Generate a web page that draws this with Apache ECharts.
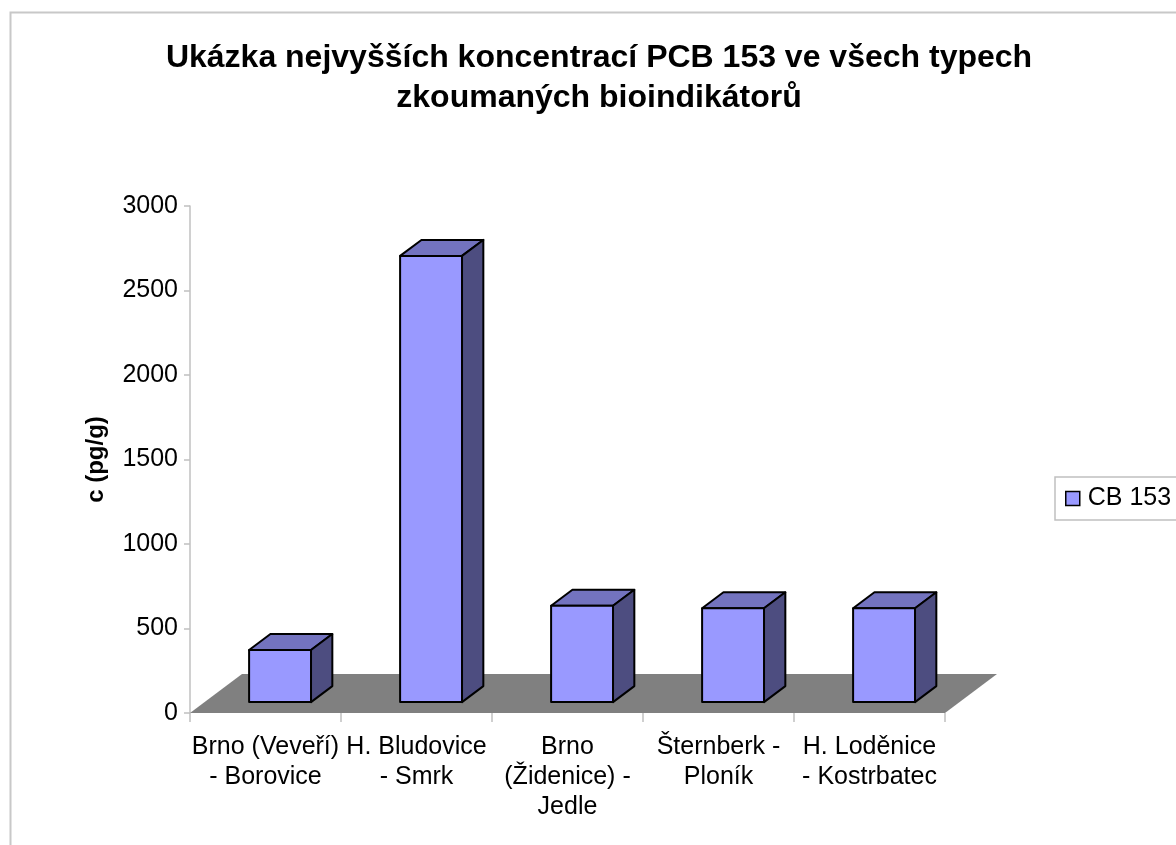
<!DOCTYPE html>
<html>
<head>
<meta charset="utf-8">
<script src="https://cdn.jsdelivr.net/npm/echarts@6/dist/echarts.min.js"></script>
<style>
    html, body { margin: 0; padding: 0; background: #fff; }
    #chart { width: 1176px; height: 845px; }
</style>
</head>
<body>
<div id="chart"></div>
<script>
var categories = [
    'Brno (Veveří)\n- Borovice',
    'H. Bludovice\n- Smrk',
    'Brno\n(Židenice) -\nJedle',
    'Šternberk -\nPloník',
    'H. Loděnice\n- Kostrbatec'
];
var values = [308, 2640, 570, 555, 555];
var yTicks = [0, 3000, 500]; // min, max, interval

// floor depth offset (pixels), bar sits between 28% and 69% of it
var DX = 52, DY = -39;
var FRONT = 0.28, BACK = 0.69;

function renderFloor(params, api) {
    var cs = params.coordSys;
    var x0 = cs.x, x1 = cs.x + cs.width, y = cs.y + cs.height;
    return {
        type: 'polygon',
        shape: { points: [[x0, y], [x1, y], [x1 + DX, y + DY], [x0 + DX, y + DY]] },
        style: { fill: '#808080', stroke: null }
    };
}

function renderBar(params, api) {
    var i = api.value(0), v = api.value(1);
    var base = api.coord([i, 0]);
    var top = api.coord([i, v]);
    var w = api.size([1, 0])[0] * 0.41;
    var fx = base[0] + DX * FRONT - w / 2;
    var fyb = base[1] + DY * FRONT;
    var fyt = top[1] + DY * FRONT;
    var dx = DX * (BACK - FRONT), dy = DY * (BACK - FRONT);
    var line = { stroke: '#000', lineWidth: 2, lineJoin: 'round' };
    return {
        type: 'group',
        children: [
            {
                type: 'polygon',
                shape: { points: [[fx, fyt], [fx + w, fyt], [fx + w + dx, fyt + dy], [fx + dx, fyt + dy]] },
                style: Object.assign({ fill: '#7373bf' }, line)
            },
            {
                type: 'polygon',
                shape: { points: [[fx + w, fyt], [fx + w + dx, fyt + dy], [fx + w + dx, fyb + dy], [fx + w, fyb]] },
                style: Object.assign({ fill: '#4d4d80' }, line)
            },
            {
                type: 'rect',
                shape: { x: fx, y: fyt, width: w, height: fyb - fyt },
                style: Object.assign({ fill: '#9999ff' }, line)
            }
        ]
    };
}

var myChart = echarts.init(document.getElementById('chart'));

var option = {
    animation: false,
    textStyle: { fontFamily: 'Liberation Sans, Arial, sans-serif' },
    title: {
        text: 'Ukázka nejvyšších koncentrací PCB 153 ve všech typech\nzkoumaných bioindikátorů',
        left: 599,
        top: 38,
        padding: 0,
        textAlign: 'center',
        textStyle: { fontSize: 32, fontWeight: 'bold', color: '#000', lineHeight: 40 }
    },
    graphic: [
        {
            type: 'rect',
            left: 8, top: 10,
            shape: { width: 1200, height: 900 },
            style: { fill: null, stroke: '#c8c8c8', lineWidth: 2 },
            z: -10
        }
    ],
    legend: {
        data: ['CB 153'],
        left: 1055,
        top: 477,
        orient: 'vertical',
        padding: [9, 14, 9, 10],
        borderColor: '#c0c0c0',
        borderWidth: 1.5,
        itemWidth: 14,
        itemHeight: 14,
        itemGap: 8,
        icon: 'rect',
        itemStyle: { color: '#9999ff', borderColor: '#000', borderWidth: 1.5 },
        textStyle: { fontSize: 25, color: '#000', padding: [0, 0, 0, 3] }
    },
    grid: { left: 190, right: 231, top: 206, bottom: 132 },
    xAxis: {
        type: 'category',
        data: categories,
        boundaryGap: true,
        axisLine: { show: false },
        axisTick: { show: true, length: 9, lineStyle: { color: '#c0c0c0', width: 1.5 } },
        axisLabel: { interval: 0, fontSize: 25, lineHeight: 30, color: '#000', margin: 19 },
        splitLine: { show: false }
    },
    yAxis: {
        type: 'value',
        min: yTicks[0],
        max: yTicks[1],
        interval: yTicks[2],
        name: 'c (pg/g)',
        nameLocation: 'middle',
        nameRotate: 90,
        nameGap: 82,
        nameTextStyle: { fontSize: 24, fontWeight: 'bold', color: '#000' },
        axisLine: { show: true, lineStyle: { color: '#c0c0c0', width: 1.5 } },
        axisTick: { show: true, inside: false, length: 6, lineStyle: { color: '#c0c0c0', width: 1.5 } },
        axisLabel: {
            fontSize: 25,
            color: '#000',
            margin: 12,
            formatter: function (v) { return String(v); }
        },
        splitLine: { show: false }
    },
    series: [
        {
            name: 'floor',
            type: 'custom',
            renderItem: renderFloor,
            data: [[0, 0]],
            silent: true,
            z: 1
        },
        {
            name: 'CB 153',
            type: 'custom',
            renderItem: renderBar,
            itemStyle: { color: '#9999ff' },
            encode: { x: 0, y: 1 },
            data: values.map(function (v, i) { return [i, v]; }),
            z: 2
        }
    ]
};

myChart.setOption(option);
</script>
</body>
</html>
